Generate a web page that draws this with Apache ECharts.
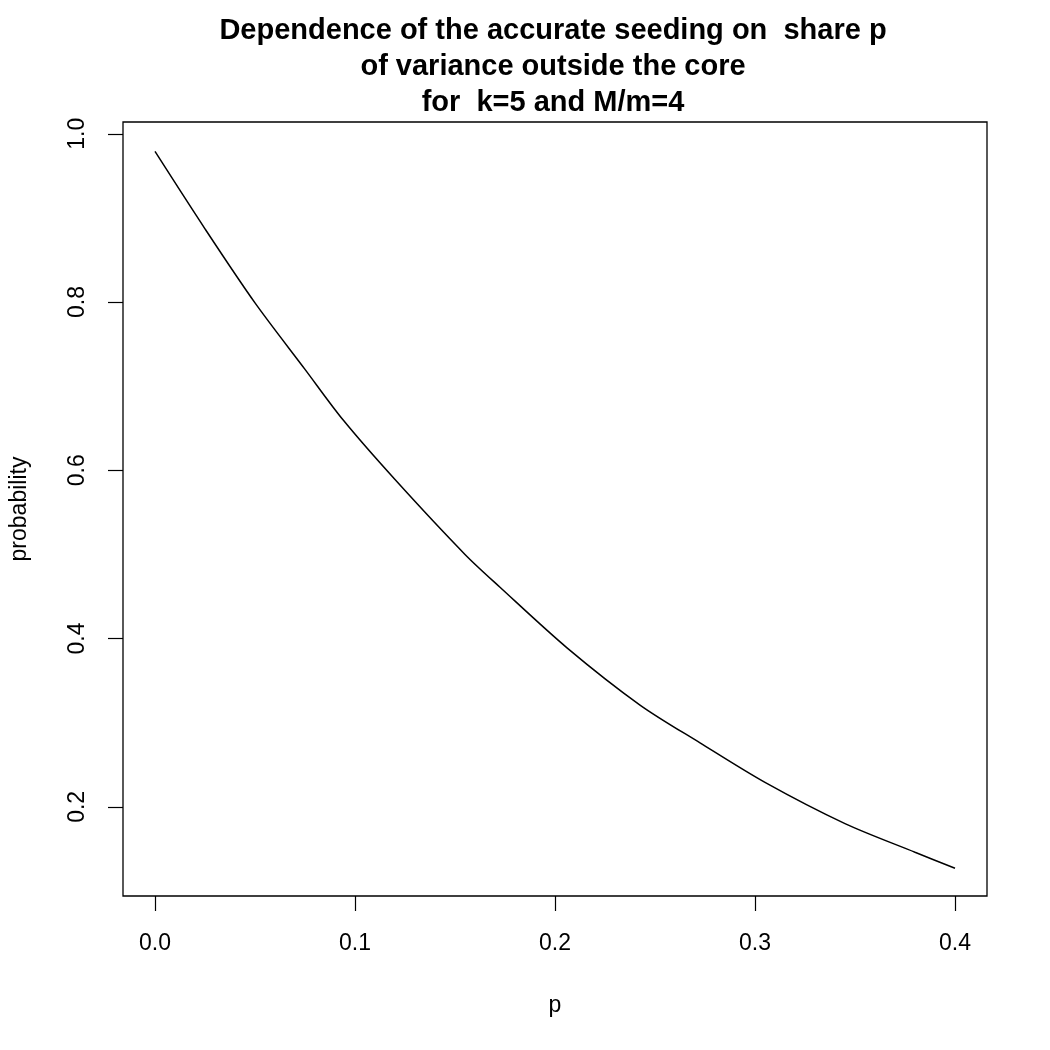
<!DOCTYPE html>
<html lang="en">
<head>
    <meta charset="UTF-8">
    <title>accurate seeding</title>
    <script src="https://cdn.jsdelivr.net/npm/echarts@6/dist/echarts.min.js"></script>
</head>
<style>
    body{
        margin: 0;
        padding: 0;
        background: #fff;
    }
</style>
<body>
<div id="main" style="width: 1050px;height:1050px;"></div>
<script>
    // values
    var shareP = [0, 0.025, 0.05, 0.075, 0.094, 0.12, 0.155, 0.1725, 0.206, 0.2425, 0.2725, 0.305, 0.345, 0.38, 0.4];
    var probability = [0.979, 0.887, 0.799, 0.720, 0.660, 0.589, 0.500, 0.461, 0.389, 0.321, 0.276, 0.229, 0.180, 0.146, 0.127];
    var xTicks = [0, 0.1, 0.2, 0.3, 0.4];
    var yTicks = [0.2, 0.4, 0.6, 0.8, 1.0];

    var points = [];
    for (var i = 0; i < shareP.length; i++) {
        points.push([shareP[i], probability[i]]);
    }

    var font = '"Liberation Sans", Arial, Helvetica, sans-serif';
    var chart = echarts.init(document.getElementById('main'), null, {renderer: 'canvas'});
    var option = {
        backgroundColor: '#fff',
        animation: false,
        title: {
            text: 'Dependence of the accurate seeding on  share p\nof variance outside the core\nfor  k=5 and M/m=4',
            left: 548,
            textAlign: 'center',
            top: 8,
            textStyle: {
                fontFamily: font,
                fontWeight: 'bold',
                fontSize: 29,
                lineHeight: 36,
                color: '#000'
            }
        },
        grid: {
            left: 123,
            right: 63,
            top: 122,
            bottom: 154,
            show: true,
            borderColor: '#000',
            borderWidth: 1.3,
            backgroundColor: 'transparent'
        },
        xAxis: {
            type: 'value',
            min: -0.016,
            max: 0.416,
            name: 'p',
            nameLocation: 'middle',
            nameGap: 98,
            nameTextStyle: {fontFamily: font, fontSize: 23, color: '#000'},
            axisLine: {show: false, onZero: false},
            axisTick: {
                show: true,
                length: 15,
                customValues: xTicks,
                lineStyle: {color: '#000', width: 1.2}
            },
            axisLabel: {
                customValues: xTicks,
                margin: 36,
                fontFamily: font,
                fontSize: 23,
                color: '#000',
                formatter: function (v) { return v.toFixed(1); }
            },
            splitLine: {show: false}
        },
        yAxis: {
            type: 'value',
            min: 0.094,
            max: 1.014,
            name: 'probability',
            nameLocation: 'middle',
            nameGap: 92,
            nameTextStyle: {fontFamily: font, fontSize: 23, color: '#000'},
            axisLine: {show: false, onZero: false},
            axisTick: {
                show: true,
                length: 15,
                customValues: yTicks,
                lineStyle: {color: '#000', width: 1.2}
            },
            axisLabel: {
                customValues: yTicks,
                rotate: 90,
                margin: 34,
                fontFamily: font,
                fontSize: 23,
                color: '#000',
                formatter: function (v) { return v.toFixed(1); }
            },
            splitLine: {show: false}
        },
        series: [{
            name: 'probability',
            type: 'line',
            data: points,
            smooth: 0.3,
            showSymbol: false,
            lineStyle: {color: '#000', width: 1.5}
        }]
    };
    chart.setOption(option);
</script>
</body>
</html>
